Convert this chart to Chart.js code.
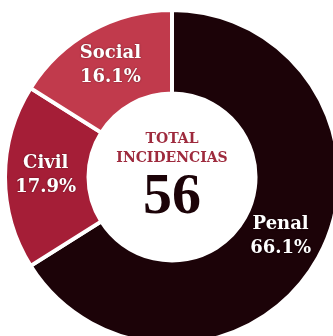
<!DOCTYPE html>
<html>
<head>
<meta charset="utf-8">
<script src="https://cdn.jsdelivr.net/npm/chart.js@4"></script>
<style>
  html, body { margin: 0; padding: 0; background: #fff; }
  #wrap { position: relative; width: 333px; height: 336px; overflow: hidden; }
  #box { position: absolute; left: 3px; top: 8px; width: 338px; height: 338px; }
</style>
</head>
<body>
<div id="wrap">
  <div id="box"><canvas id="incidencias"></canvas></div>
</div>
<script>
  const labels = ["Penal", "Civil", "Social"];
  const values = [37, 10, 9];
  const colors = ["#1c0308", "#a51e37", "#c13a4c"];
  const centerTitle = ["TOTAL", "INCIDENCIAS"];

  const total = values.reduce((a, b) => a + b, 0);

  // white name + percentage in the middle of each slice
  const sliceLabels = {
    id: "sliceLabels",
    afterDatasetsDraw(chart) {
      const ctx = chart.ctx;
      const arcs = chart.getDatasetMeta(0).data;
      ctx.save();
      ctx.fillStyle = "#ffffff";
      ctx.textAlign = "center";
      ctx.textBaseline = "alphabetic";
      ctx.shadowColor = "rgba(0,0,0,0.45)";
      ctx.shadowBlur = 2;
      ctx.font = "bold 18px 'DejaVu Serif'";
      arcs.forEach((arc, i) => {
        const mid = (arc.startAngle + arc.endAngle) / 2;
        const r = (arc.innerRadius + arc.outerRadius) / 2;
        const x = arc.x + Math.cos(mid) * r;
        const y = arc.y + Math.sin(mid) * r;
        const pct = (values[i] / total * 100).toFixed(1) + "%";
        ctx.fillText(labels[i], x - 1, y - 9);
        ctx.fillText(pct, x - 1, y + 15);
      });
      ctx.restore();
    }
  };

  // total in the hole
  const centerText = {
    id: "centerText",
    afterDraw(chart) {
      const ctx = chart.ctx;
      const arc = chart.getDatasetMeta(0).data[0];
      const cx = arc.x, cy = arc.y;
      ctx.save();
      ctx.textAlign = "center";
      ctx.textBaseline = "alphabetic";
      ctx.fillStyle = "#9e2a3d";
      ctx.font = "bold 14px 'DejaVu Serif'";
      ctx.fillText(centerTitle[0], cx, cy - 34);
      ctx.fillText(centerTitle[1], cx, cy - 15);
      ctx.fillStyle = "#1c0308";
      ctx.font = "bold 58px 'Liberation Serif'";
      ctx.fillText(String(total), cx, cy + 36);
      ctx.restore();
    }
  };

  new Chart("incidencias", {
    type: "doughnut",
    data: {
      labels: labels,
      datasets: [{
        data: values,
        backgroundColor: colors,
        borderColor: "#ffffff",
        borderWidth: 4,
        hoverOffset: 0
      }]
    },
    options: {
      responsive: true,
      maintainAspectRatio: false,
      animation: false,
      cutout: "50%",
      layout: { padding: 0 },
      plugins: {
        legend: { display: false },
        tooltip: { enabled: false }
      }
    },
    plugins: [sliceLabels, centerText]
  });
</script>
</body>
</html>
